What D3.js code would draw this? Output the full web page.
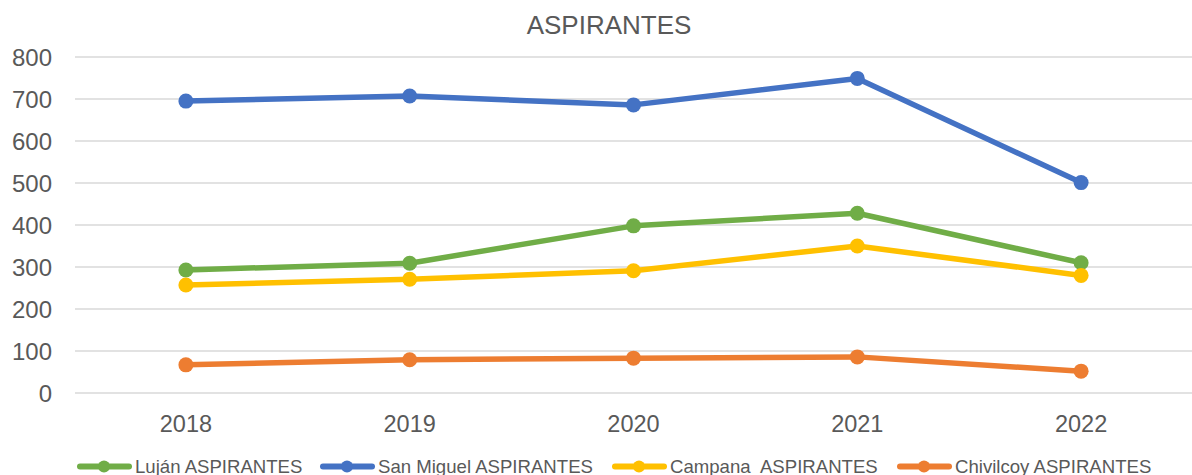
<!DOCTYPE html>
<html>
<head>
<meta charset="utf-8">
<script src="https://cdn.jsdelivr.net/npm/d3@7"></script>
<style>
  body { margin: 0; background: #fff; }
  text { font-family: "Liberation Sans", Arial, sans-serif; fill: #595959; }
</style>
</head>
<body>
<div id="chart"></div>
<script>
var years = ['2018', '2019', '2020', '2021', '2022']
var yTicks = [0, 100, 200, 300, 400, 500, 600, 700, 800]
var seriesNames = ['Luján ASPIRANTES', 'San Miguel ASPIRANTES', 'Campana  ASPIRANTES', 'Chivilcoy ASPIRANTES']
var seriesColors = ['#70AD47', '#4472C4', '#FFC000', '#ED7D31']
var lujan = [293, 309, 398, 428, 310]
var sanMiguel = [695, 707, 686, 749, 501]
var campana = [257, 271, 291, 350, 280]
var chivilcoy = [67, 79, 83, 86, 52]
var allSeries = [lujan, sanMiguel, campana, chivilcoy]

var width = 1192
var height = 475

var svg = d3.select('#chart')
	.append('svg')
	.attr('width', width)
	.attr('height', height)

var x = d3.scaleBand()
	.domain(years)
	.range([74, 1193])

var y = d3.scaleLinear()
	.domain([0, 800])
	.range([393, 57])

// gridlines
svg.append('g')
	.selectAll('line')
	.data(yTicks)
	.enter()
	.append('line')
	.attr('x1', 75)
	.attr('x2', width)
	.attr('y1', d => y(d))
	.attr('y2', d => y(d))
	.style('stroke', '#D9D9D9')
	.style('stroke-width', 1.3)

// y labels
svg.append('g')
	.selectAll('text')
	.data(yTicks)
	.enter()
	.append('text')
	.attr('x', 52)
	.attr('y', d => y(d))
	.attr('dy', '0.36em')
	.attr('text-anchor', 'end')
	.style('font-size', '24px')
	.text(d => d)

// x labels
svg.append('g')
	.selectAll('text')
	.data(years)
	.enter()
	.append('text')
	.attr('x', d => x(d) + x.bandwidth() / 2)
	.attr('y', 432)
	.attr('text-anchor', 'middle')
	.style('font-size', '23.5px')
	.text(d => d)

svg.append('text')
	.attr('x', 609)
	.attr('y', 34)
	.attr('text-anchor', 'middle')
	.style('font-size', '26px')
	.text('ASPIRANTES')

var line = d3.line()
	.x((d, i) => x(years[i]) + x.bandwidth() / 2)
	.y(d => y(d))

allSeries.forEach(function(vals, k) {
	var g = svg.append('g')
	g.append('path')
		.datum(vals)
		.attr('d', line)
		.style('fill', 'none')
		.style('stroke', seriesColors[k])
		.style('stroke-width', 5.5)
		.style('stroke-linejoin', 'round')
		.style('stroke-linecap', 'round')
	g.selectAll('circle')
		.data(vals)
		.enter()
		.append('circle')
		.attr('cx', (d, i) => x(years[i]) + x.bandwidth() / 2)
		.attr('cy', d => y(d))
		.attr('r', 7.5)
		.style('fill', seriesColors[k])
})

// legend
var legendX = [77, 320, 612, 897]
var legend = svg.append('g')
seriesNames.forEach(function(name, k) {
	var lx = legendX[k]
	legend.append('line')
		.attr('x1', lx + 3)
		.attr('x2', lx + 52)
		.attr('y1', 466.5)
		.attr('y2', 466.5)
		.style('stroke', seriesColors[k])
		.style('stroke-width', 6)
		.style('stroke-linecap', 'round')
	legend.append('circle')
		.attr('cx', lx + 27)
		.attr('cy', 466.5)
		.attr('r', 6)
		.style('fill', seriesColors[k])
	legend.append('text')
		.attr('x', lx + 58)
		.attr('y', 472.5)
		.style('font-size', '18.6px')
		.style('white-space', 'pre')
		.text(name)
})
</script>
</body>
</html>
